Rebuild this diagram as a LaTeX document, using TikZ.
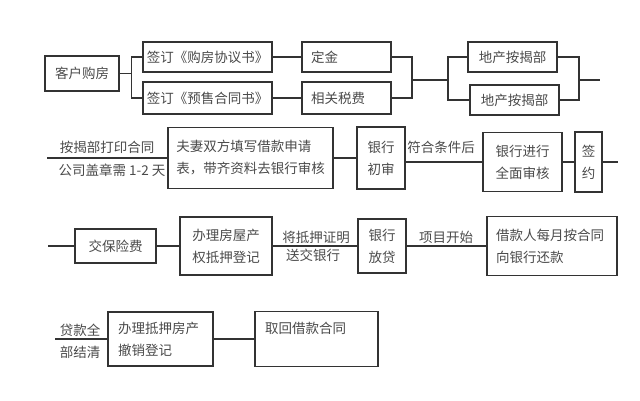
\documentclass[tikz,border=0pt]{standalone}
\usepackage{fontspec}
\setmainfont{Noto Sans CJK SC}
\definecolor{linegray}{HTML}{333333}
\definecolor{textgray}{HTML}{4A4A4A}
\begin{document}
\begin{tikzpicture}[x=1pt, y=-1pt,
            box/.style={draw=linegray, line width=1.1pt, text=textgray, inner sep=0pt, align=center, font=\fontsize{13.5}{22}\selectfont},
            note/.style={text=textgray, inner sep=0pt, font=\fontsize{13.5}{22}\selectfont},
            link/.style={draw=linegray, line width=1.1pt}
        ]
            \useasboundingbox (0,0) rectangle (640,400);
            % first row
            \node[box, minimum width=74pt, minimum height=35pt] (kehu) at (82, 73.5) {客户购房};
            \node[box, minimum width=129pt, minimum height=30pt] (xieyi) at (207.5, 57) {签订《购房协议书》};
            \node[box, minimum width=129pt, minimum height=32pt] (yushou) at (207.5, 98) {签订《预售合同书》};
            \node[box, minimum width=89pt, minimum height=30pt, text width=71pt, align=left] (dingjin) at (346.5, 57) {定金};
            \node[box, minimum width=89pt, minimum height=32pt, text width=71pt, align=left] (shuifei) at (346.5, 98) {相关税费};
            \node[box, minimum width=89pt, minimum height=30pt] (anjie1) at (512.5, 57) {地产按揭部};
            \node[box, minimum width=89pt, minimum height=30pt] (anjie2) at (514.5, 100) {地产按揭部};
            \coordinate (join1) at (412, 80);
            \coordinate (fork2) at (448, 80);
            \coordinate (join2) at (579, 80);
            \coordinate (end1) at (600, 80);
            \draw[link] (kehu.east) -- ++(12, 0) coordinate (fork1);
            \draw[link] (xieyi.west) -| (fork1) |- (yushou.west);
            \draw[link] (xieyi) -- (dingjin);
            \draw[link] (yushou) -- (shuifei);
            \draw[link] (dingjin.east) -| (join1) |- (shuifei.east);
            \draw[link] (join1) -- (fork2);
            \draw[link] (anjie1.west) -| (fork2) |- (anjie2.west);
            \draw[link] (anjie1.east) -| (join2) |- (anjie2.east);
            \draw[link] (join2) -- (end1);
            % second row
            \coordinate (start2) at (47, 158);
            \node[box, minimum width=165pt, minimum height=61pt, align=left] (shenqing) at (250.5, 158) {夫妻双方填写借款申请\\表，带齐资料去银行审核};
            \node[box, minimum width=48pt, minimum height=62pt] (chushen) at (381, 158) {银行\\初审};
            \node[box, minimum width=79pt, minimum height=59pt] (quanmian) at (522.5, 162) {银行进行\\全面审核};
            \node[box, minimum width=27pt, minimum height=60pt] (qianyue) at (588.5, 162) {签\\约};
            \coordinate (end2) at (618, 162);
            \node[note] (dayin) at (107, 147) {按揭部打印合同};
            \node[note] (gaizhang) at (112, 170) {公司盖章需 1-2 天};
            \node[note] (fuhe) at (441, 147) {符合条件后};
            \draw[link] (start2) -- (shenqing.west);
            \draw[link] (shenqing) -- (chushen);
            \draw[link] (chushen.east |- quanmian) -- (quanmian.west);
            \draw[link] (quanmian) -- (qianyue);
            \draw[link] (qianyue) -- (end2);
            % third row
            \coordinate (start3) at (48, 246);
            \node[box, minimum width=81pt, minimum height=34pt] (baoxian) at (115.5, 246) {交保险费};
            \node[box, minimum width=92pt, minimum height=58pt] (dengji) at (226, 246) {办理房屋产\\权抵押登记};
            \node[box, minimum width=48pt, minimum height=54pt] (fangdai) at (382, 246) {银行\\放贷};
            \node[box, minimum width=130pt, minimum height=59pt, text width=112pt, align=left] (huankuan) at (552, 246) {借款人每月按合同\\向银行还款};
            \node[note] (zhengming) at (316, 237) {将抵押证明};
            \node[note] (songjiao) at (313, 255) {送交银行};
            \node[note] (kaishi) at (446, 237) {项目开始};
            \draw[link] (start3) -- (baoxian.west);
            \draw[link] (baoxian) -- (dengji);
            \draw[link] (dengji) -- (fangdai);
            \draw[link] (fangdai) -- (huankuan);
            % fourth row
            \coordinate (start4) at (55, 339);
            \node[box, minimum width=105pt, minimum height=54pt, text width=85pt, align=left] (chexiao) at (160.5, 339) {办理抵押房产\\撤销登记};
            \node[box, minimum width=123pt, minimum height=55pt, text width=103pt, align=left, text depth=22pt] (quhui) at (316.5, 339) {取回借款合同};
            \node[note] (daikuan) at (80, 330) {贷款全};
            \node[note] (jieqing) at (80, 352) {部结清};
            \draw[link] (start4) -- (chexiao.west);
            \draw[link] (chexiao) -- (quhui);
        \end{tikzpicture}
\end{document}
